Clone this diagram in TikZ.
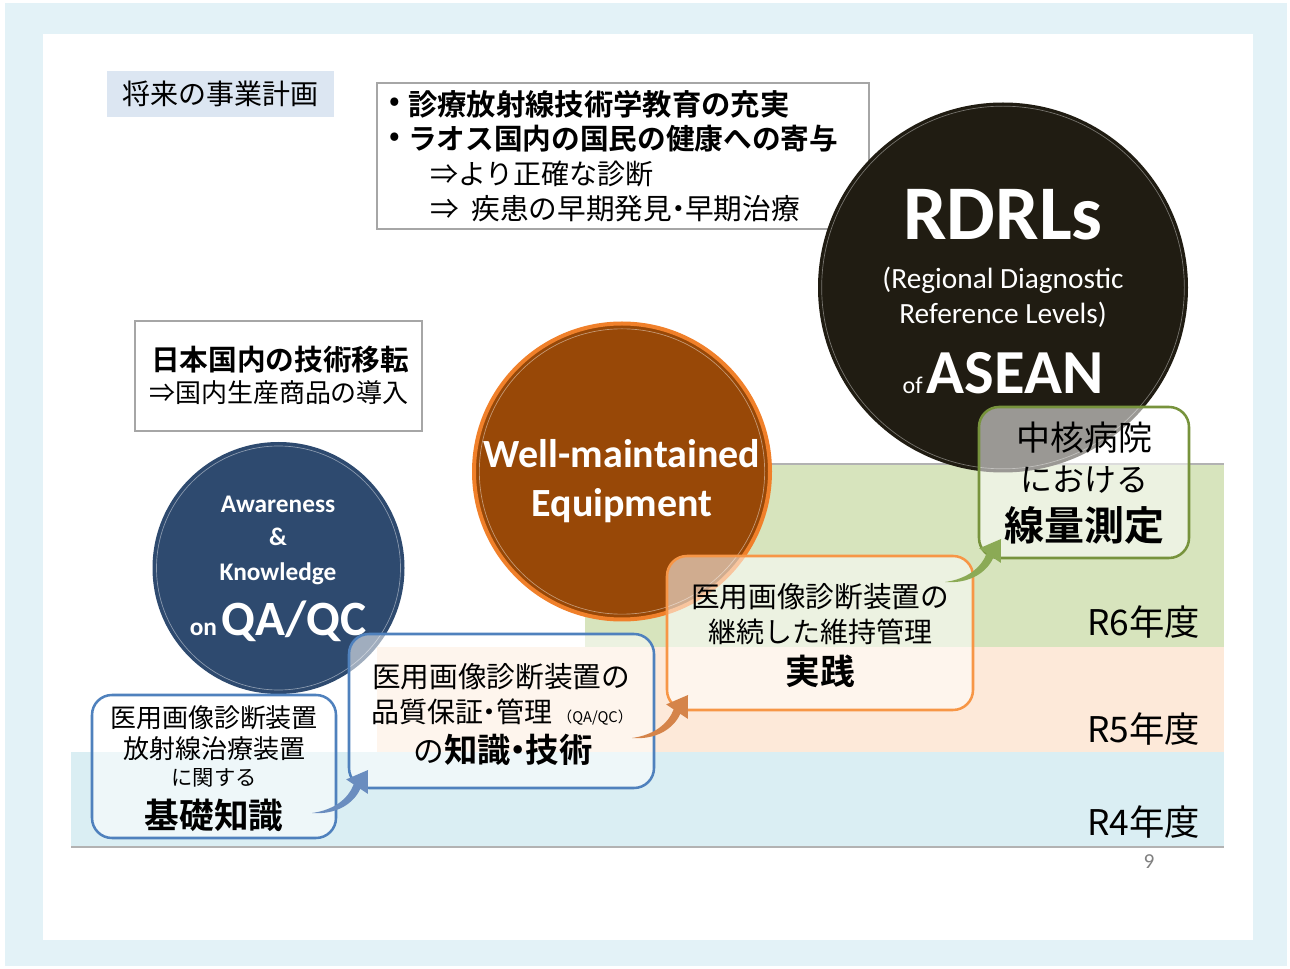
\documentclass[tikz,border=0pt]{standalone}
\usepackage{fontspec}
\setmainfont{Noto Sans CJK JP}[BoldFont={Noto Sans CJK JP Bold}]
\newfontfamily\calfont{Carlito}
\usetikzlibrary{arrows.meta}
\definecolor{outerbg}{HTML}{E3F2F7}
\definecolor{titlebg}{HTML}{DCE6F2}
\definecolor{greenband}{HTML}{D7E4BD}
\definecolor{peachband}{HTML}{FDE9D9}
\definecolor{blueband}{HTML}{DAEEF3}
\definecolor{navy}{HTML}{2E4A6F}
\definecolor{brown}{HTML}{984807}
\definecolor{glow}{HTML}{F0802A}
\definecolor{blackc}{HTML}{201C12}
\definecolor{bluebd}{HTML}{4F81BD}
\definecolor{orangebd}{HTML}{F79646}
\definecolor{greenbd}{HTML}{77933C}
\definecolor{bluearr}{HTML}{6A8DBF}
\definecolor{orangearr}{HTML}{D5844A}
\definecolor{greenarr}{HTML}{8BAA55}
\definecolor{graybd}{HTML}{A6A6A6}
\newcommand\fsz[1]{\fontsize{#1}{#1}\selectfont}
\newcommand\nkg{\makebox[0.45em]{・}}
\tikzset{
  txt/.style={inner sep=0pt, outer sep=0pt},
  plainbox/.style={draw=graybd, line width=1.6pt, fill=white, inner sep=0pt},
  roundbox/.style={rounded corners=15pt, line width=1.9pt, fill=white, fill opacity=0.55, inner sep=0pt},
  ctxt/.style={txt, text=white, font=\calfont\bfseries},
}
\begin{document}
\begin{tikzpicture}[x=0.75pt,y=-0.75pt]
\useasboundingbox (0,0) rectangle (1290,969);
\fill[white] (0,0) rectangle (1290,969);
\fill[outerbg] (5,3) rectangle (1287,966);
\fill[white] (43,34) rectangle (1253,940);
% bands
\fill[greenband] (585,464) rectangle (1224,647);
\fill[peachband] (377,647) rectangle (1224,752);
\fill[blueband] (71,752) rectangle (1224,847);
\draw[gray!60, line width=0.8pt] (585,464) -- (1224,464);
\draw[gray!60, line width=0.8pt] (71,847) -- (1224,847);
% title
\node[fill=titlebg, minimum width=170.25pt, minimum height=34.5pt, inner sep=0pt] (title) at (220.5,94) {};
\node[txt] (titletxt) at (220.5,94) {\fsz{21pt}将来の事業計画};
% top box
\node[plainbox, minimum width=369pt, minimum height=109.5pt] (goal) at (623,156) {};
\node[txt] (g1b) at (395,104) {\fsz{21pt}\bfseries •};
\node[txt, anchor=west] (g1) at (408,104) {\fsz{22pt}\bfseries 診療放射線技術学教育の充実};
\node[txt] (g2b) at (395,139) {\fsz{21pt}\bfseries •};
\node[txt, anchor=west] (g2) at (408,139) {\fsz{21.5pt}\bfseries ラオス国内の国民の健康への寄与};
\node[txt, anchor=west] (g3) at (430,174) {\fsz{21pt}⇒より正確な診断};
\node[txt, anchor=west] (g4) at (430,209) {\fsz{21.5pt}⇒\hspace{0.45em}疾患の早期発見\nkg 早期治療};
% japan box
\node[plainbox, minimum width=215.25pt, minimum height=82.5pt] (jp) at (278.5,376) {};
\node[txt] (jp1) at (280,360) {\fsz{21.5pt}\bfseries 日本国内の技術移転};
\node[txt] (jp2) at (279,393) {\fsz{19.5pt}⇒国内生産商品の導入};
% circles
\node[circle, fill=navy, minimum size=189pt, inner sep=0pt] (aw) at (278.5,568) {};
\draw[white, opacity=0.45, line width=0.5pt] (aw.center) circle[radius=91.5pt];
\node[circle, fill=brown, draw=glow, line width=3pt, minimum size=222pt, inner sep=0pt] (eq) at (622,471.5) {};
\draw[white, opacity=0.45, line width=0.5pt] (eq.center) circle[radius=107pt];
\node[circle, fill=blackc, minimum size=277.5pt, inner sep=0pt] (rd) at (1003,287.5) {};
\draw[white, opacity=0.4, line width=0.5pt] (rd.center) circle[radius=136pt];
% circle texts
\node[ctxt, anchor=base] (aw1) at (278,513) {\fsz{19pt}Awareness};
\node[ctxt, anchor=base] (aw2) at (278,546) {\fsz{19pt}\&};
\node[ctxt, anchor=base] (aw3) at (278,581) {\fsz{19pt}Knowledge};
\node[ctxt, anchor=base] (aw4) at (278,636) {\fsz{19pt}on\,{\fsz{37pt}QA/QC}};
\node[ctxt, anchor=base] (eq1) at (622,468) {\fsz{30pt}Well-maintained};
\node[ctxt, anchor=base] (eq2) at (622,517) {\fsz{30pt}Equipment};
\node[ctxt, anchor=base] (rd1) at (1003,240) {\fsz{58pt}RDRLs};
\node[txt, text=white, font=\calfont, anchor=base] (rd2) at (1003,289) {\fsz{22pt}(Regional Diagnostic};
\node[txt, text=white, font=\calfont, anchor=base] (rd3) at (1003,324) {\fsz{22pt}Reference Levels)};
\node[txt, text=white, anchor=base] (rd4) at (1003,394) {\calfont\fsz{18pt}of\,{\bfseries\fsz{47pt}ASEAN}};
% rounded boxes
\node[roundbox, draw=bluebd, minimum width=183pt, minimum height=107.25pt] (b1) at (214,766.5) {};
\node[roundbox, draw=bluebd, minimum width=228.75pt, minimum height=115.5pt] (b2) at (501.5,711) {};
\node[roundbox, draw=orangebd, minimum width=229.5pt, minimum height=115.5pt] (b3) at (820,633) {};
\node[roundbox, draw=greenbd, minimum width=157.5pt, minimum height=113.25pt] (b4) at (1084,482.5) {};
% box texts
\node[txt] (b1a) at (214,718) {\fsz{19.5pt}医用画像診断装置};
\node[txt] (b1b) at (214,749) {\fsz{19.5pt}放射線治療装置};
\node[txt] (b1c) at (214,778) {\fsz{16pt}に関する};
\node[txt] (b1d) at (214,815) {\fsz{26pt}\bfseries 基礎知識};
\node[txt] (b2a) at (501,677) {\fsz{21.5pt}医用画像診断装置の};
\node[txt] (b2b) at (502,712) {\fsz{21pt}品質保証\nkg 管理\hspace{0.2em}{\fsz{11pt}（QA/QC）}};
\node[txt] (b2c) at (503,750) {\fsz{23pt}の{\bfseries\fsz{25pt}知識\nkg 技術}};
\node[txt] (b3a) at (820,597) {\fsz{21.5pt}医用画像診断装置の};
\node[txt] (b3b) at (820,632) {\fsz{21pt}継続した維持管理};
\node[txt] (b3c) at (820,671) {\fsz{26pt}\bfseries 実践};
\node[txt] (b4a) at (1084,438) {\fsz{25.5pt}中核病院};
\node[txt] (b4b) at (1084,480) {\fsz{24pt}における};
\node[txt] (b4c) at (1084,525) {\fsz{30pt}\bfseries 線量測定};
% arrows
\coordinate (a1) at (312,813);
\coordinate (a2) at (632,738);
\coordinate (a3) at (945,582);
\foreach \c/\col in {a1/bluearr, a2/orangearr, a3/greenarr}{
  \fill[\col, shift={(\c)}] (0,0) .. controls (25,2) and (42,-10) .. (48.3,-24.2)
     -- (55.8,-19.2) -- (56,-43) -- (34.2,-33.6) -- (41.7,-28.6)
     .. controls (36,-14) and (22,-3) .. (0,0) -- cycle;
}
% year labels
\node[txt, anchor=east] (r6) at (1200,622) {\fsz{26.5pt}R6年度};
\node[txt, anchor=east] (r5) at (1200,729) {\fsz{26.5pt}R5年度};
\node[txt, anchor=east] (r4) at (1200,822) {\fsz{26.5pt}R4年度};
\node[txt, text=gray] (pg) at (1149,862) {\calfont\fsz{16pt}9};
\end{tikzpicture}
\end{document}
